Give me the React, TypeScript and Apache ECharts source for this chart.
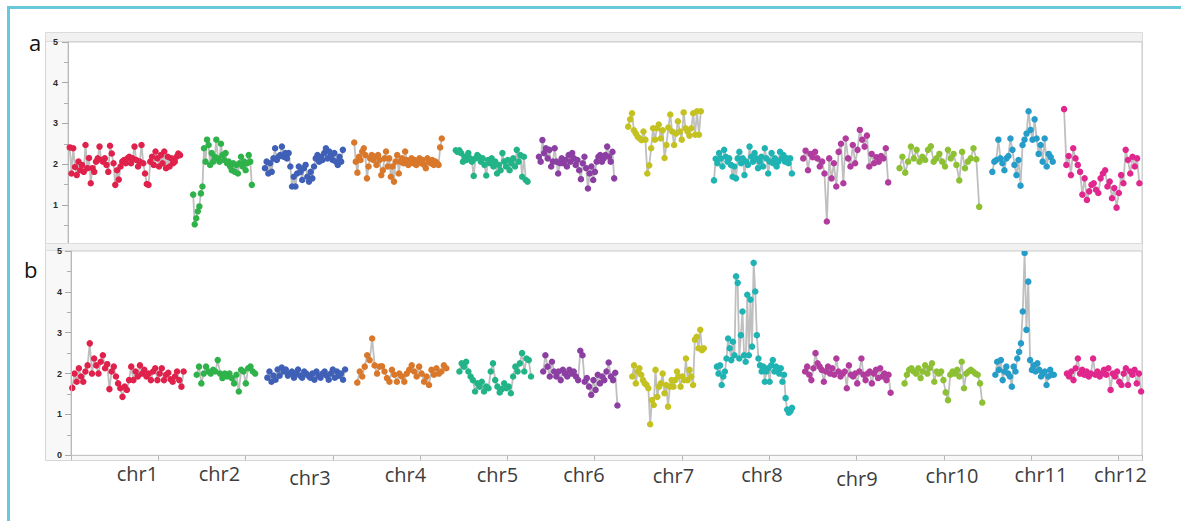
import React, { useEffect, useRef } from "react";
import * as echarts from "echarts";

// ---------- categories & styling per chromosome ----------
const chrNames = ["chr1", "chr2", "chr3", "chr4", "chr5", "chr6", "chr7", "chr8", "chr9", "chr10", "chr11", "chr12"];
const chrColors = ["#df214b", "#2fb24a", "#3f60b6", "#d9782a", "#22b487", "#8b3fa2", "#c4c221", "#20b3b3", "#b23c9e", "#8dc032", "#259dc8", "#e0278d"];
// label centre (x px) and baseline (y px) of the chromosome names under panel b
const labelX = [137.5, 219.5, 310, 405.5, 497.5, 584, 673.5, 762, 857, 952, 1041, 1120.5];
const labelBaseline = [481, 481, 485, 482, 482, 482, 483, 482, 486, 483, 482, 482];

// genomic span of each chromosome on the x axis (axis units, 1 unit per tick)
const spanStartA = [0.02, 1.43, 2.25, 3.27, 4.43, 5.38, 6.4, 7.38, 8.4, 9.5, 10.56, 11.38];
const spanEndA = [1.28, 2.1, 3.14, 4.27, 5.25, 6.24, 7.23, 8.27, 9.37, 10.41, 11.25, 12.24];
const spanStartB = [0.015, 1.44, 2.25, 3.28, 4.45, 5.41, 6.43, 7.4, 8.41, 9.55, 10.59, 11.41];
const spanEndB = [1.29, 2.11, 3.14, 4.3, 5.27, 6.26, 7.25, 8.26, 9.39, 10.44, 11.26, 12.26];

const yTickMin = 0;
const yTickMax = 5;
const xMax = 12.27;

// ---------- panel a values ----------
const a1 = [2.41, 1.77, 2.39, 1.93, 1.73, 2.06, 1.85, 1.98, 1.81, 2.47, 1.9, 2.15, 1.53, 1.9, 1.81, 2.06, 2.14, 2.43, 2.1, 2.06, 2.14, 1.98, 1.81, 2.45, 2.26, 2.02, 1.49, 1.85, 1.62, 1.94, 2.06, 2.1, 2.02, 2.14, 2.18, 2.02, 2.14, 2.43, 2.1, 1.94, 2.06, 2.47, 2.02, 1.77, 1.51, 1.49, 2.06, 2.18, 1.98, 2.31, 2.14, 1.94, 2.22, 2.02, 2.31, 1.9, 2.18, 1.94, 2.14, 2.02, 2.06, 2.18, 2.26, 2.22];
const a2 = [1.25, 0.52, 0.67, 0.84, 0.96, 1.28, 1.45, 2.39, 2.06, 2.6, 2.47, 1.98, 2.27, 2.06, 2.18, 2.6, 2.14, 2.06, 2.5, 2.22, 2.1, 2.27, 2.02, 2.06, 1.94, 1.85, 2.02, 1.81, 1.98, 1.77, 2.02, 2.18, 1.94, 2.06, 1.85, 2.02, 2.22, 2.06, 1.49];
const a3 = [1.9, 2.06, 1.77, 2.02, 1.81, 2.14, 2.39, 2.1, 2.18, 2.22, 2.43, 2.18, 2.27, 2.14, 2.27, 1.94, 1.45, 1.69, 1.45, 1.77, 1.94, 1.81, 1.61, 1.9, 1.98, 1.69, 1.57, 1.81, 1.65, 1.94, 2.14, 2.22, 2.06, 2.18, 2.1, 2.27, 2.39, 2.14, 2.31, 2.22, 2.1, 2.27, 2.06, 1.98, 2.18, 2.06, 2.35];
const a4 = [2.53, 2.06, 1.79, 2.18, 2.1, 2.31, 2.39, 2.22, 1.65, 1.94, 2.14, 2.22, 2.1, 2.18, 1.98, 2.22, 2.1, 1.73, 1.85, 2.14, 2.31, 1.94, 2.14, 1.69, 1.94, 1.57, 2.06, 2.22, 1.77, 2.06, 2.14, 2.02, 2.31, 2.1, 1.98, 2.06, 2.14, 2.02, 2.1, 1.98, 2.06, 2.14, 2.02, 2.1, 1.98, 1.9, 2.14, 2.06, 2.02, 2.1, 1.98, 2.06, 2.02, 1.98, 2.41, 2.63];
const a5 = [2.34, 2.3, 2.34, 2.27, 2.06, 2.18, 2.1, 2.27, 2.14, 2.06, 1.71, 2.14, 2.22, 2.18, 2.06, 2.14, 1.98, 1.72, 2.1, 2.02, 2.14, 1.94, 2.06, 1.77, 1.98, 1.85, 2.27, 2.06, 1.94, 2.1, 1.85, 2.02, 2.14, 1.94, 2.35, 2.06, 2.22, 1.69, 2.18, 1.61, 1.57];
const a6 = [2.18, 2.06, 2.59, 2.27, 2.39, 2.14, 2.35, 1.94, 2.06, 2.39, 2.06, 1.77, 2.02, 2.14, 2.02, 2.1, 1.94, 2.22, 2.06, 2.27, 2.14, 1.98, 2.1, 1.85, 1.63, 2.02, 2.18, 1.9, 1.4, 1.77, 1.94, 1.61, 1.81, 2.06, 2.18, 2.22, 2.06, 2.14, 2.22, 2.43, 2.18, 2.06, 2.3, 1.65];
const a7 = [2.92, 3.1, 3.25, 2.83, 2.75, 2.67, 2.63, 2.59, 2.8, 2.6, 1.77, 1.97, 2.39, 2.88, 2.6, 2.88, 2.97, 2.63, 2.83, 2.15, 2.47, 2.9, 3.22, 2.8, 2.47, 2.75, 3.05, 2.8, 2.6, 3.27, 2.88, 2.8, 2.7, 2.88, 3.25, 2.72, 3.3, 2.72, 3.3];
const a8 = [1.6, 2.13, 2.02, 2.27, 2.14, 1.94, 2.35, 2.18, 2.06, 2.14, 1.98, 1.69, 1.94, 1.65, 2.14, 2.3, 2.02, 2.14, 1.73, 2.06, 1.98, 2.43, 2.18, 2.06, 2.27, 2.14, 1.9, 2.06, 2.18, 1.94, 2.39, 2.14, 1.77, 2.06, 2.27, 2.02, 2.14, 1.94, 2.06, 2.3, 2.14, 2.22, 2.06, 2.14, 2.02, 2.14, 1.77];
const a9 = [2.14, 2.33, 1.85, 2.25, 2.17, 2.3, 2.14, 1.94, 2.06, 1.77, 0.59, 2.14, 1.65, 2.02, 1.45, 2.3, 2.5, 1.53, 2.63, 2.14, 1.94, 2.47, 2.02, 2.35, 2.84, 2.6, 2.43, 2.7, 1.94, 2.25, 2.02, 2.17, 2.06, 2.2, 2.14, 2.39, 1.55];
const a10 = [1.9, 2.18, 1.79, 2.06, 2.43, 2.14, 2.35, 2.06, 2.18, 2.1, 2.35, 2.44, 2.06, 2.14, 2.25, 2.06, 1.94, 2.35, 2.14, 2.25, 1.98, 1.6, 2.3, 1.9, 2.06, 2.14, 2.39, 2.12, 0.95];
const a11 = [1.81, 2.06, 2.1, 2.6, 2.14, 2.02, 1.85, 2.14, 2.2, 2.63, 2.35, 1.98, 1.73, 2.1, 1.47, 2.47, 2.6, 2.75, 3.3, 2.84, 2.6, 3.1, 2.63, 2.25, 2.47, 2.06, 2.63, 1.94, 2.25, 2.17, 2.06];
const a12 = [3.35, 1.98, 2.2, 1.73, 2.39, 2.14, 1.98, 1.81, 1.25, 1.65, 1.12, 1.33, 1.49, 1.53, 1.37, 1.29, 1.65, 1.77, 1.85, 1.45, 1.57, 1.16, 1.41, 0.93, 1.29, 1.73, 1.53, 2.35, 2.1, 1.77, 2.18, 1.94, 2.14, 1.53];

// ---------- panel b values ----------
const b1 = [1.65, 2.0, 1.8, 2.13, 1.93, 1.8, 2.05, 2.2, 2.74, 2.0, 2.37, 2.2, 2.0, 2.29, 2.45, 2.13, 2.23, 1.62, 2.05, 2.17, 1.93, 1.76, 1.64, 1.43, 1.68, 1.6, 1.84, 2.17, 1.84, 2.05, 1.93, 2.2, 2.0, 2.09, 1.93, 2.0, 1.84, 2.05, 2.13, 1.84, 2.0, 2.13, 1.84, 1.97, 2.02, 1.86, 1.8, 1.93, 2.05, 1.84, 1.68, 2.05];
const b2 = [1.97, 2.17, 1.76, 2.0, 2.17, 2.05, 2.0, 2.09, 2.05, 2.33, 2.0, 1.89, 2.0, 1.93, 2.0, 1.89, 1.76, 1.97, 1.56, 2.09, 2.05, 1.76, 2.13, 2.17, 2.05, 2.0];
const b3 = [1.9, 2.05, 1.8, 1.95, 1.85, 2.1, 1.95, 2.15, 2.05, 2.1, 1.95, 2.0, 2.05, 1.9, 2.0, 2.1, 1.95, 1.9, 2.05, 2.0, 1.95, 1.9, 2.0, 1.85, 2.05, 1.95, 1.9, 2.0, 2.05, 1.95, 1.85, 2.0, 2.1, 1.9, 2.05, 1.95, 2.0, 1.85, 2.1];
const b4 = [1.78, 2.05, 1.93, 2.17, 2.45, 2.33, 2.86, 2.2, 2.0, 2.17, 2.18, 2.05, 1.89, 1.8, 2.09, 1.97, 1.8, 2.0, 1.93, 1.8, 2.0, 2.09, 2.2, 2.05, 1.93, 2.17, 2.0, 1.8, 1.93, 1.72, 2.09, 1.97, 2.13, 2.0, 2.05, 2.2, 2.13];
const b5 = [2.05, 2.25, 2.17, 2.29, 2.05, 1.93, 1.84, 1.56, 1.76, 1.68, 1.8, 1.56, 1.68, 1.64, 2.05, 2.25, 1.84, 1.68, 1.54, 1.62, 1.76, 1.64, 1.68, 1.52, 1.93, 2.17, 2.05, 2.25, 2.5, 2.05, 2.37, 2.33, 1.93];
const b6 = [2.05, 2.45, 2.17, 1.93, 2.29, 2.05, 1.93, 2.05, 1.84, 2.09, 2.0, 1.93, 2.09, 2.0, 2.05, 1.93, 1.84, 2.56, 2.45, 1.8, 1.89, 1.68, 1.48, 1.84, 1.6, 1.97, 1.76, 1.93, 1.84, 2.05, 2.27, 1.93, 1.84, 2.02, 1.22];
const b7 = [1.93, 2.2, 1.76, 2.05, 2.13, 1.97, 1.84, 1.76, 1.72, 1.64, 0.76, 1.35, 1.23, 2.09, 1.43, 1.68, 1.76, 2.0, 1.52, 1.72, 1.19, 1.68, 1.84, 1.68, 1.84, 2.05, 1.93, 1.68, 1.93, 1.84, 2.37, 1.84, 2.09, 1.93, 1.72, 2.83, 2.9, 2.62, 3.07, 2.57, 2.62];
const b8 = [2.17, 2.0, 2.2, 1.72, 1.93, 2.05, 2.37, 2.86, 2.62, 2.33, 2.78, 2.45, 4.38, 4.22, 2.37, 2.94, 3.52, 2.45, 2.29, 3.93, 2.45, 3.81, 2.66, 4.71, 4.01, 2.94, 2.37, 2.2, 2.05, 2.17, 1.8, 2.05, 2.13, 1.8, 2.2, 2.33, 2.05, 2.17, 2.13, 2.0, 2.13, 1.8, 1.97, 1.4, 1.12, 1.04, 1.08, 1.16];
const b9 = [2.05, 2.17, 1.97, 1.84, 2.13, 2.5, 2.25, 2.17, 2.09, 1.8, 2.05, 2.17, 2.0, 2.13, 1.97, 2.37, 2.05, 1.93, 2.0, 2.05, 1.64, 2.2, 1.97, 1.93, 2.0, 1.76, 2.05, 2.37, 1.97, 1.84, 2.0, 2.05, 1.76, 2.0, 2.09, 1.89, 2.13, 1.93, 2.0, 1.84, 1.97, 1.53];
const b10 = [1.76, 1.97, 2.09, 2.13, 2.05, 2.0, 2.13, 1.89, 2.05, 2.2, 2.0, 2.13, 2.25, 1.8, 2.05, 2.0, 2.05, 1.84, 1.54, 1.35, 1.97, 2.05, 2.0, 2.09, 1.93, 2.29, 1.64, 2.0, 2.05, 2.09, 2.05, 2.0, 1.97, 1.76, 1.29];
const b11 = [1.97, 2.29, 2.09, 2.33, 1.84, 2.05, 2.17, 2.0, 1.93, 1.68, 2.17, 2.05, 2.37, 2.53, 2.74, 3.52, 4.95, 3.07, 4.25, 2.33, 2.09, 2.2, 2.05, 2.25, 2.09, 1.93, 2.0, 2.05, 1.72, 1.93, 2.09, 1.97, 1.97];
const b12 = [2.0, 1.93, 2.05, 1.84, 2.13, 2.37, 2.0, 2.09, 1.97, 2.05, 1.93, 2.0, 2.37, 1.97, 2.05, 1.93, 2.0, 2.09, 1.97, 2.13, 1.6, 2.0, 1.93, 2.05, 1.8, 1.72, 2.0, 2.13, 1.72, 2.05, 1.97, 2.09, 1.76, 2.0, 1.56];

const panelA = [a1, a2, a3, a4, a5, a6, a7, a8, a9, a10, a11, a12];
const panelB = [b1, b2, b3, b4, b5, b6, b7, b8, b9, b10, b11, b12];

function seriesFor(panel: number[][], starts: number[], ends: number[], idx: number) {
  return panel.map((vals, c) => {
    const n = vals.length;
    const step = (ends[c] - starts[c]) / (n - 1);
    return {
      type: "line",
      name: chrNames[c] + (idx === 0 ? "a" : "b"),
      xAxisIndex: idx,
      yAxisIndex: idx,
      data: vals.map((v, i) => [starts[c] + i * step, v]),
      symbol: "circle",
      symbolSize: 6.5,
      showSymbol: true,
      showAllSymbol: true,
      silent: true,
      itemStyle: { color: chrColors[c], borderWidth: 0 },
      lineStyle: { color: "#bfbfbf", width: 1.8 },
      emphasis: { disabled: true },
      z: 3,
    };
  });
}

function yAxisCfg(grid: number, margin: number, z: number) {
  return {
    gridIndex: grid,
    type: "value",
    min: yTickMin,
    max: yTickMax,
    interval: 1,
    z,
    axisLine: { show: true, lineStyle: { color: "#b8b8b8", width: 1 } },
    axisTick: { show: true, length: 6, lineStyle: { color: "#a8a8a8" } },
    minorTick: { show: true, splitNumber: 2, length: 4, lineStyle: { color: "#b0b0b0" } },
    axisLabel: { fontSize: 9, fontWeight: "bold", color: "#2a2a2a", margin, fontFamily: "Liberation Sans, Arial, sans-serif" },
    splitLine: { show: false },
  };
}

export default function App() {
  const ref = useRef<HTMLDivElement>(null);
  useEffect(() => {
    if (!ref.current) return;
    const chart = echarts.init(ref.current, undefined, { renderer: "svg" });
    const graphics: any[] = [
      // outer cyan frame
      { type: "rect", shape: { x: 7, y: 6, width: 1174, height: 3 }, style: { fill: "#67c9db" }, z: 200 },
      { type: "rect", shape: { x: 7, y: 6, width: 3, height: 515 }, style: { fill: "#67c9db" }, z: 200 },
      // panel a box
      { type: "rect", shape: { x: 45.5, y: 32.5, width: 1097, height: 214 }, style: { fill: "#f8f8f8", stroke: "#d6d6d6", lineWidth: 1 }, z: -10 },
      { type: "rect", shape: { x: 45.5, y: 32.5, width: 1097, height: 9 }, style: { fill: "#f1f1f1", stroke: "#dcdcdc", lineWidth: 1 }, z: -9 },
      // panel b box
      { type: "rect", shape: { x: 45.5, y: 243.5, width: 1097, height: 217 }, style: { fill: "#f8f8f8", stroke: "#d6d6d6", lineWidth: 1 }, z: -10 },
      { type: "rect", shape: { x: 45.5, y: 243.5, width: 1097, height: 7 }, style: { fill: "#f1f1f1", stroke: "#dcdcdc", lineWidth: 1 }, z: 100 },
      // panel letters
      { type: "text", x: 29, y: 42, style: { text: "a", fontSize: 22, fontFamily: "Open Sans", fill: "#111", verticalAlign: "middle", align: "left" }, z: 100 },
      { type: "text", x: 24, y: 269, style: { text: "b", fontSize: 22, fontFamily: "Open Sans", fill: "#111", verticalAlign: "middle", align: "left" }, z: 100 },
    ];
    chrNames.forEach((name, i) => {
      graphics.push({
        type: "text",
        x: labelX[i],
        y: labelBaseline[i] - 7.8,
        style: { text: name, fontSize: 20, fontFamily: "Open Sans", fill: "#3d3d3d", align: "center", verticalAlign: "middle" },
        z: 100,
      });
    });

    chart.setOption({
      animation: false,
      backgroundColor: "#ffffff",
      grid: [
        { left: 68, top: 42, width: 1074, height: 203.5, show: true, backgroundColor: "#ffffff", borderColor: "#cbcbcb", borderWidth: 1 },
        { left: 71, top: 251, width: 1071, height: 204.3, show: true, backgroundColor: "#ffffff", borderColor: "#cbcbcb", borderWidth: 1 },
      ],
      xAxis: [
        { gridIndex: 0, type: "value", min: 0, max: xMax, interval: 1, show: false },
        {
          gridIndex: 1,
          type: "value",
          min: 0,
          max: xMax,
          interval: 1,
          axisLine: { show: true, lineStyle: { color: "#c4c4c4", width: 1 } },
          axisTick: { show: true, length: 5, lineStyle: { color: "#b8b8b8" } },
          axisLabel: { show: false },
          splitLine: { show: false },
        },
      ],
      yAxis: [yAxisCfg(0, 10, 0), yAxisCfg(1, 9, 150)],
      graphic: graphics,
      series: [...seriesFor(panelA, spanStartA, spanEndA, 0), ...seriesFor(panelB, spanStartB, spanEndB, 1)],
    } as any);
    return () => chart.dispose();
  }, []);
  return <div ref={ref} style={{ position: "absolute", left: 0, top: 0, width: 1181, height: 521, background: "#fff" }} />;
}
